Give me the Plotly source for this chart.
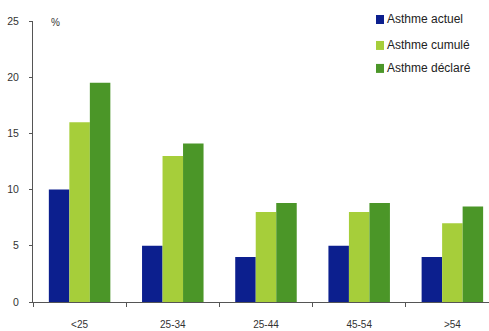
import plotly.graph_objects as go

# Age groups and prevalence (%) per asthma definition
age_groups = ["<25", "25-34", "25-44", "45-54", ">54"]
asthme_actuel = [10, 5, 4, 5, 4]
asthme_cumule = [16, 13, 8, 8, 7]
asthme_declare = [19.5, 14.1, 8.8, 8.8, 8.5]

series_names = ["Asthme actuel", "Asthme cumulé", "Asthme déclaré"]
series_values = [asthme_actuel, asthme_cumule, asthme_declare]
series_colors = ["#0c1f8e", "#a6ce3a", "#4b9628"]

y_ticks = [0, 5, 10, 15, 20, 25]

FONT = "Liberation Sans, Arial, sans-serif"

fig = go.Figure()
for name, vals, col in zip(series_names, series_values, series_colors):
    fig.add_trace(go.Bar(
        x=age_groups, y=vals, name=name,
        marker=dict(color=col, line=dict(width=0)),
        showlegend=False,
    ))

W, H = 489, 331
ml, mr, mt, mb = 33, 0, 21, 28.5
pw, ph = W - ml - mr, H - mt - mb


def px_x(p):
    return (p - ml) / pw


def px_y(p):
    return 1 - (p - mt) / ph


fig.update_layout(
    width=W, height=H,
    margin=dict(l=ml, r=mr, t=mt, b=mb, pad=0),
    paper_bgcolor="white", plot_bgcolor="white",
    barmode="group", bargap=0.34, bargroupgap=0,
    font=dict(family=FONT, size=10, color="#333333"),
    xaxis=dict(
        type="category",
        range=[-0.5, 4.393],
        showline=True, linecolor="#555555", linewidth=1,
        ticks="outside", tickson="boundaries", ticklen=4, tickcolor="#555555",
        showgrid=False, zeroline=False,
        ticklabelstandoff=13,
        tickfont=dict(family=FONT, size=10, color="#333333"),
    ),
    yaxis=dict(
        range=[0, 25],
        tickvals=y_ticks,
        showline=True, linecolor="#555555", linewidth=1,
        ticks="outside", ticklen=3, tickcolor="#555555",
        showgrid=False, zeroline=False,
        ticklabelstandoff=8,
        tickfont=dict(family=FONT, size=10.5, color="#333333"),
    ),
)

fig.add_annotation(
    text="%", xref="paper", yref="paper",
    x=px_x(55), y=px_y(23),
    showarrow=False, font=dict(family=FONT, size=10, color="#333333"),
    xanchor="center", yanchor="middle",
)

# Legend: small colour squares with labels, top right
legend_rows = [19, 45, 68]
for name, col, cy in zip(series_names, series_colors, legend_rows):
    fig.add_shape(
        type="rect", xref="paper", yref="paper",
        x0=px_x(376), x1=px_x(384), y0=px_y(cy + 5), y1=px_y(cy - 4),
        fillcolor=col, line=dict(width=0),
    )
    fig.add_annotation(
        text=name, xref="paper", yref="paper",
        x=px_x(384.5), y=px_y(cy),
        showarrow=False, xanchor="left", yanchor="middle",
        font=dict(family=FONT, size=12, color="#222222"),
    )

fig.write_html("out.html")
